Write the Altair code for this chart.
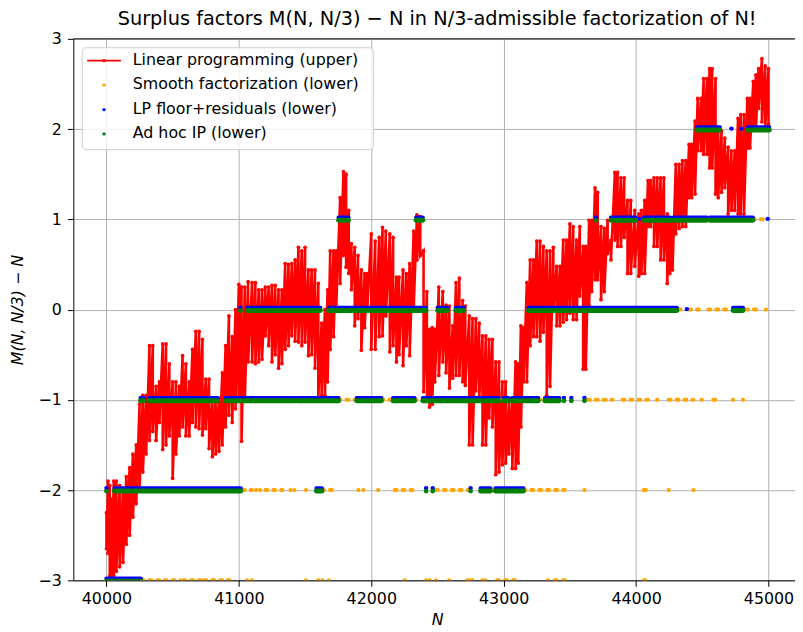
import altair as alt
import pandas as pd

# ---------------- data ----------------
# Linear programming (upper): sampled N with local high / low of the trace
red_n = [40000,40012,40025,40040,40055,40075,40100,40125,40150,40175,40200,40225,40250,40275,40300,40325,40350,40375,40400,40425,
         40450,40475,40500,40525,40550,40575,40600,40625,40650,40675,40700,40725,40750,40775,40800,40825,40850,40875,40900,40925,
         40950,40975,41000,41020,41045,41070,41100,41125,41150,41175,41200,41225,41250,41275,41300,41325,41350,41375,41400,41425,
         41450,41475,41500,41525,41550,41575,41600,41625,41650,41670,41690,41715,41735,41765,41790,41810,41830,41850,41875,41900,
         41925,41950,41970,42000,42030,42060,42085,42110,42140,42165,42190,42210,42240,42265,42290,42320,42345,42370,42395,42420,
         42440,42460,42480,42510,42540,42565,42590,42615,42640,42665,42690,42710,42740,42765,42790,42815,42840,42865,42890,42915,
         42940,42965,42990,43015,43040,43065,43090,43110,43130,43150,43175,43200,43225,43250,43275,43300,43325,43350,43375,43400,
         43425,43450,43475,43500,43525,43550,43575,43600,43620,43645,43665,43690,43710,43735,43760,43785,43810,43840,43860,43885,
         43910,43935,43960,43990,44020,44040,44065,44090,44110,44135,44160,44185,44210,44235,44255,44275,44300,44325,44350,44375,
         44400,44420,44445,44465,44490,44510,44535,44555,44575,44600,44620,44645,44670,44695,44720,44745,44770,44790,44815,44840,
         44860,44885,44905,44925,44950,44975,45000]
red_hi = [-2.25,-1.9,-1.95,-2.1,-1.9,-1.9,-1.95,-2.0,-1.85,-1.75,-1.6,-1.5,-1.05,-0.95,-0.95,-0.4,-0.4,-0.85,-0.8,-0.38,
          -0.38,-0.6,-0.8,-0.8,-0.85,-0.51,-0.6,-0.8,-0.44,-0.24,-0.24,-0.33,-0.77,-0.77,-0.99,-0.99,-0.99,-0.7,-0.4,-0.07,
          -0.3,0.0,0.28,0.25,0.25,0.31,0.3,0.3,0.22,0.22,0.25,0.25,0.27,0.27,0.22,0.22,0.51,0.5,0.51,0.55,
          0.69,0.65,0.69,0.44,0.44,0.44,0.29,-0.15,0.0,0.22,0.65,0.65,0.65,1.24,1.53,1.5,1.1,0.73,0.69,0.6,
          0.44,0.4,0.4,0.84,0.76,0.8,0.91,0.87,0.84,0.8,0.36,0.36,0.44,0.4,0.51,0.87,1.05,1.03,0.65,0.2,
          -0.22,-0.2,-0.22,0.25,0.2,0.05,0.04,-0.18,0.3,0.35,0.1,0.04,-0.07,-0.1,-0.1,-0.15,-0.29,-0.29,-0.33,-0.33,
          -0.58,-0.58,-0.8,-0.8,-1.02,-1.0,-0.58,-0.6,-0.18,-0.2,0.3,0.55,0.55,0.76,0.76,0.7,0.65,0.65,0.69,0.48,
          0.48,0.77,0.77,0.95,0.92,0.77,0.92,0.7,0.7,0.99,0.99,1.35,1.3,0.92,0.9,0.99,0.77,1.52,1.52,1.46,
          1.46,1.21,1.21,1.1,1.06,1.1,1.21,1.43,1.43,1.46,1.46,1.46,1.46,1.06,1.02,1.02,1.61,1.61,1.65,1.65,
          1.83,1.83,2.09,2.34,2.34,2.56,2.56,2.67,2.67,2.56,1.98,1.98,1.9,1.8,1.76,1.76,2.12,2.16,2.16,2.34,
          2.34,2.53,2.6,2.67,2.78,2.7,2.67]
red_lo = [-2.65,-2.7,-2.95,-2.96,-2.95,-2.9,-2.85,-2.8,-2.6,-2.5,-2.3,-2.15,-2.0,-1.8,-1.6,-1.45,-1.35,-1.45,-1.25,-1.55,
          -1.5,-1.4,-1.87,-1.6,-1.4,-1.3,-1.4,-1.4,-1.25,-1.3,-1.32,-1.39,-1.32,-1.54,-1.63,-1.6,-1.57,-1.5,-1.3,-1.17,
          -1.25,-1.1,-1.0,-1.46,-1.0,-0.58,-0.58,-0.6,-0.58,-0.55,-0.29,-0.4,-0.58,-0.5,-0.65,-0.6,-0.44,-0.4,-0.29,-0.35,
          -0.36,-0.4,-0.36,-0.51,-0.5,-0.65,-0.98,-0.95,-0.95,-0.8,-0.44,-0.3,0.0,0.29,0.6,0.47,0.4,0.22,-0.18,-0.1,
          -0.45,-0.2,0.0,-0.44,-0.44,-0.3,-0.29,-0.07,-0.47,-0.4,-0.58,-0.5,-0.62,-0.4,-0.51,0.0,0.55,0.6,-0.91,-1.0,
          -1.08,-1.05,-0.8,-0.73,-0.58,-0.7,-0.87,-0.76,-0.73,-0.73,-0.8,-0.84,-1.5,-1.5,-0.9,-1.0,-1.5,-1.5,-1.2,-1.3,
          -1.83,-1.8,-1.72,-1.7,-1.6,-1.76,-1.76,-1.7,-1.3,-0.8,-0.8,-0.4,-0.3,-0.3,-0.35,-0.25,-0.95,-0.85,0.0,-0.18,
          -0.18,-0.14,-0.11,-0.04,-0.11,-0.11,0.15,-0.66,-0.66,0.04,0.2,0.33,0.33,0.11,0.2,0.62,0.55,0.77,0.7,0.7,
          0.8,0.4,0.4,0.48,0.37,0.4,0.4,0.92,0.92,0.7,0.7,0.55,0.55,0.29,0.4,0.44,0.84,0.9,0.92,0.92,
          1.24,1.24,1.28,1.76,1.76,1.72,1.72,1.57,1.57,1.28,1.24,1.3,1.35,1.06,1.1,1.1,1.06,1.06,1.06,1.79,
          1.79,2.0,2.0,2.23,2.08,2.01,2.05]
assert len(red_n) == len(red_hi) == len(red_lo)

# LP floor+residuals (blue) and Ad hoc IP (green): runs of consecutive N at one level
bg_run_start = [40000, 40060, 41585, 42825, 42937, 40257, 40319, 40900, 41440, 41890, 42164, 42389, 42862, 42999, 43062,
                43311, 41062, 41678, 42501, 42638, 43187, 44732, 41753, 42339, 43810, 44059, 44283, 44558, 44458, 44845]
bg_run_end = [40260, 41015, 41628, 42900, 43150, 40282, 40842, 41425, 41753, 42077, 42327, 42838, 42962, 43037, 43261,
              43420, 41616, 42414, 42576, 42700, 44308, 44807, 41828, 42389, 43997, 44258, 44533, 44882, 44633, 45006]
bg_run_level = [-3, -2, -2, -2, -2, -1, -1, -1, -1, -1, -1, -1, -1, -1, -1,
                -1, 0, 0, 0, 0, 0, 0, 1, 1, 1, 1, 1, 1, 2, 2]
bg_pt_n = [40000, 42414, 42464, 42750, 43455, 43511, 43610, 41012, 43698]
bg_pt_level = [-2, -2, -2, -2, -1, -1, -1, 0, 1]
blue_pt_n = [44383, 44807, 44022, 44994, 44720, 44795]
blue_pt_level = [0, 0, 1, 1, 2, 2]

# Smooth factorization (orange)
or_run_start = [40265, 40440, 40580, 40740, 40915, 42950, 41030, 41200, 41628, 42177, 42488, 42900, 43149,
                41753, 42077, 42327, 43635, 43897, 44246, 44583, 44321, 44400, 44545, 44830, 44882]
or_run_end = [40420, 40560, 40720, 40900, 40965, 43124, 41100, 41330, 41740, 42339, 42738, 42937, 43461,
              41890, 42164, 42389, 43822, 44134, 44433, 44620, 44370, 44480, 44710, 44930, 44982]
or_run_level = [-3, -3, -3, -3, -3, -3, -2, -2, -2, -2, -2, -2, -2,
                -1, -1, -1, -1, -1, -1, -1, 0, 0, 0, 0, 1]
or_pt_n = [41062, 41099, 41507, 41600, 41631, 41680, 42252, 42414, 42440, 42488, 42588, 42725, 42745, 42763,
           42838, 42862, 43336, 43386, 43398, 43448, 43461, 44059, 44068,
           41130, 41160, 41390, 41420, 41507, 41903, 41940, 42052, 43610, 44059, 44072, 44246, 44433,
           41433, 42975, 43280, 44159, 44495, 44732, 44807,
           44980, 44545]
or_pt_level = [-3, -3, -3, -3, -3, -3, -3, -3, -3, -3, -3, -3, -3, -3,
               -3, -3, -3, -3, -3, -3, -3, -3, -3,
               -2, -2, -2, -2, -2, -2, -2, -2, -2, -2, -2, -2, -2,
               -1, -1, -1, -1, -1, -1, -1,
               0, 1]

x_ticks = [40000, 41000, 42000, 43000, 44000, 45000]
y_ticks = [-3, -2, -1, 0, 1, 2, 3]
legend_labels = ["Linear programming (upper)", "Smooth factorization (lower)",
                 "LP floor+residuals (lower)", "Ad hoc IP (lower)"]
legend_colors = ["#ff0000", "#ffa500", "#0000ff", "#008000"]
title_text = "Surplus factors M(N, N/3) \u2212 N in N/3-admissible factorization of N!"
y_title = "M(N, N/3) \u2212 N"

# ---------------- tables ----------------
rows = []
for i, (n, h, l) in enumerate(zip(red_n, red_hi, red_lo)):
    rows.append({"N": n, "v": h, "k": 2 * i})
    rows.append({"N": n, "v": l, "k": 2 * i + 1})
red_df = pd.DataFrame(rows)
bg_runs = pd.DataFrame({"start": bg_run_start, "end": bg_run_end, "level": bg_run_level})
bg_pts = pd.DataFrame({"N": bg_pt_n, "level": bg_pt_level})
blue_pts = pd.DataFrame({"N": blue_pt_n, "level": blue_pt_level})
or_runs = pd.DataFrame({"start": or_run_start, "end": or_run_end, "level": or_run_level})
or_pts = pd.DataFrame({"N": or_pt_n, "level": or_pt_level})
one = pd.DataFrame({"z": [0]})

# ---------------- styling ----------------
FONT = "DejaVu Sans"
W, H = 729, 547
xscale = alt.Scale(domain=[39750, 45200], nice=False, zero=False)
yscale = alt.Scale(domain=[-3, 3], nice=False, zero=False)
common_axis = dict(labelFont=FONT, labelFontSize=16, labelColor="black", labelFlush=False,
                   tickSize=6, tickColor="black", tickWidth=1, domainColor="black", domainWidth=1,
                   grid=True, gridColor="#b0b0b0", gridWidth=1,
                   titleFont=FONT, titleFontSize=16, titleFontStyle="italic", titleFontWeight="normal",
                   titleColor="black")
xaxis = alt.Axis(values=x_ticks, format="d", title="N", labelPadding=4,
                 titleX=367.5, titleY=40, titleBaseline="middle", titleAlign="center", **common_axis)
yaxis = alt.Axis(values=y_ticks, format="d", title=y_title, labelPadding=6,
                 titleX=-56, titleY=H / 2, titleAngle=270, titleBaseline="middle", titleAlign="center",
                 **common_axis)


def X(f):
    return alt.X(f, type="quantitative", scale=xscale, axis=xaxis)


def Y(f):
    return alt.Y(f, type="quantitative", scale=yscale, axis=yaxis)


red = alt.Chart(red_df).mark_line(
    color="#ff0000", strokeWidth=2.6, clip=True,
    point=alt.OverlayMarkDef(color="#ff0000", size=14, filled=True, opacity=1)
).encode(x=X("N"), y=Y("v"), order=alt.Order("k:Q"))

orange_runs = alt.Chart(or_runs).mark_rule(
    color="#ffa500", strokeWidth=4, strokeCap="round", strokeDash=[2, 6], clip=True
).encode(x=X("start"), x2="end:Q", y=Y("level"))
orange_pts = alt.Chart(or_pts).mark_circle(color="#ffa500", size=18, opacity=1, clip=True).encode(
    x=X("N"), y=Y("level"))

blue_runs = alt.Chart(bg_runs).mark_rule(
    color="#0000ff", strokeWidth=4, strokeCap="round", yOffset=-2, y2Offset=-2, clip=True
).encode(x=X("start"), x2="end:Q", y=Y("level"), y2="level:Q")
blue_pts1 = alt.Chart(bg_pts).mark_circle(color="#0000ff", size=20, opacity=1, yOffset=-2, clip=True).encode(
    x=X("N"), y=Y("level"))
blue_pts2 = alt.Chart(blue_pts).mark_circle(color="#0000ff", size=20, opacity=1, yOffset=-0.5, clip=True).encode(
    x=X("N"), y=Y("level"))
green_runs = alt.Chart(bg_runs).mark_rule(
    color="#008000", strokeWidth=5, strokeCap="round", yOffset=1, y2Offset=1, clip=True
).encode(x=X("start"), x2="end:Q", y=Y("level"), y2="level:Q")
green_pts = alt.Chart(bg_pts).mark_circle(color="#008000", size=24, opacity=1, yOffset=1, clip=True).encode(
    x=X("N"), y=Y("level"))

top_spine = alt.Chart(one).mark_rule(color="black", strokeWidth=1).encode(
    x=alt.value(0), x2=alt.value(W), y=alt.value(0))

# legend (drawn inside the plot, top-left)
leg = [alt.Chart(one).mark_rect(fill="white", fillOpacity=0.8, stroke="#cccccc", strokeWidth=1,
                                cornerRadius=4).encode(
    x=alt.value(9), x2=alt.value(303), y=alt.value(9), y2=alt.value(112))]
leg.append(alt.Chart(one).mark_rule(color=legend_colors[0], strokeWidth=2).encode(
    x=alt.value(14), x2=alt.value(48), y=alt.value(22)))
row_y = [22, 46.5, 71.5, 96]
for i, (lab, col) in enumerate(zip(legend_labels, legend_colors)):
    leg.append(alt.Chart(one).mark_circle(color=col, size=12, opacity=1).encode(
        x=alt.value(31), y=alt.value(row_y[i])))
    leg.append(alt.Chart(one).mark_text(align="left", baseline="middle", font=FONT, fontSize=16,
                                        color="black").encode(
        x=alt.value(60), y=alt.value(row_y[i] - 1), text=alt.value(lab)))

chart = alt.layer(
    red, orange_runs, orange_pts, blue_runs, blue_pts1, blue_pts2, green_runs, green_pts, top_spine, *leg
).properties(
    width=W, height=H,
    title=alt.TitleParams(text=title_text, font=FONT, fontSize=19.5, fontWeight="normal", color="black",
                          offset=6, dx=3, dy=5),
    autosize=alt.AutoSizeParams(type="none"),
    padding={"left": 66, "top": 28, "right": 0, "bottom": 48},
).configure_view(stroke=None)

chart.save("out.html", embed_options={"renderer": "svg", "actions": False})
